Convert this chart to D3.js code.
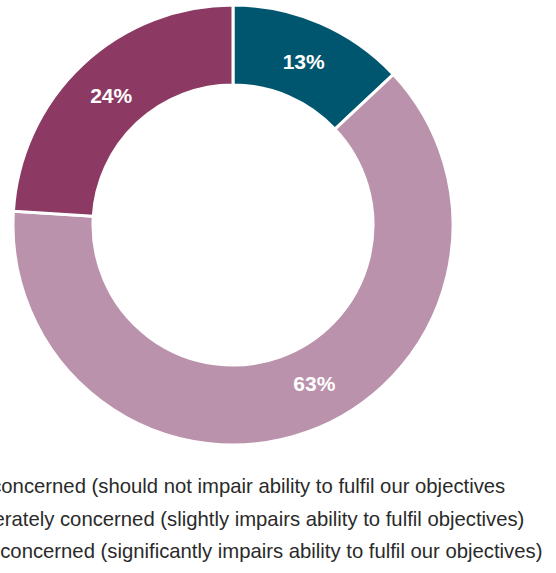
<!DOCTYPE html>
<html>
<head>
<meta charset="utf-8">
<script src="https://cdn.jsdelivr.net/npm/d3@7/dist/d3.min.js"></script>
<style>
  html, body { margin: 0; padding: 0; background: #fff; overflow: hidden; }
  svg { display: block; }
</style>
</head>
<body>
<svg id="chart" width="556" height="573"></svg>
<script>
// Level of concern — share of respondents
const categories = [
  "Not concerned (should not impair ability to fulfil our objectives",
  "Moderately concerned (slightly impairs ability to fulfil objectives)",
  "Very concerned (significantly impairs ability to fulfil our objectives)"
];
const shortNames = ["Not concerned", "Moderately concerned", "Very concerned"];
const values = [13, 63, 24];
const colors = ["#00566f", "#bb92ab", "#8c3a63"];

const svg = d3.select("#chart");
const cx = 233, cy = 225;
const outerR = 220, innerR = 140;

const pie = d3.pie().sort(null).value(d => d.value);
const arc = d3.arc().innerRadius(innerR).outerRadius(outerR);
const labelArc = d3.arc().innerRadius(178).outerRadius(178);

const data = values.map((v, i) => ({ name: shortNames[i], value: v, color: colors[i] }));
const arcs = pie(data);

const g = svg.append("g").attr("transform", `translate(${cx},${cy})`);

g.selectAll("path.slice")
  .data(arcs)
  .join("path")
  .attr("class", "slice")
  .attr("d", arc)
  .attr("fill", d => d.data.color)
  .attr("stroke", "#fff")
  .attr("stroke-width", 3)
  .attr("stroke-linejoin", "miter");

// Label angle nudges (degrees) so the large slice's label sits lower-right
const labelNudge = { "Moderately concerned": -7.4 };

g.selectAll("text.pct")
  .data(arcs)
  .join("text")
  .attr("class", "pct")
  .attr("transform", d => {
    const shift = (labelNudge[d.data.name] || 0) * Math.PI / 180;
    const a = (d.startAngle + d.endAngle) / 2 + shift;
    const [x, y] = labelArc.centroid({ startAngle: a, endAngle: a });
    return `translate(${x},${y})`;
  })
  .attr("text-anchor", "middle")
  .attr("dy", "0.36em")
  .attr("fill", "#fff")
  .attr("font-family", "'Liberation Sans', Arial, Helvetica, sans-serif")
  .attr("font-weight", "bold")
  .attr("font-size", 21)
  .text(d => d.data.value + "%");

// Legend (swatches sit left of the text)
const legend = svg.append("g").attr("transform", "translate(-46,0)");
const legendY = d3.scalePoint().domain(categories).range([486, 551]);

const items = legend.selectAll("g.item")
  .data(categories)
  .join("g")
  .attr("class", "item")
  .attr("transform", d => `translate(0,${legendY(d)})`);

items.append("rect")
  .attr("x", -34).attr("y", -8).attr("width", 16).attr("height", 16)
  .attr("fill", (d, i) => colors[i]);

items.append("text")
  .attr("x", 0)
  .attr("dy", "0.35em")
  .attr("fill", "#2a2a2a")
  .attr("font-family", "'Liberation Sans', Arial, Helvetica, sans-serif")
  .attr("font-size", 20.3)
  .text(d => d);
</script>
</body>
</html>
